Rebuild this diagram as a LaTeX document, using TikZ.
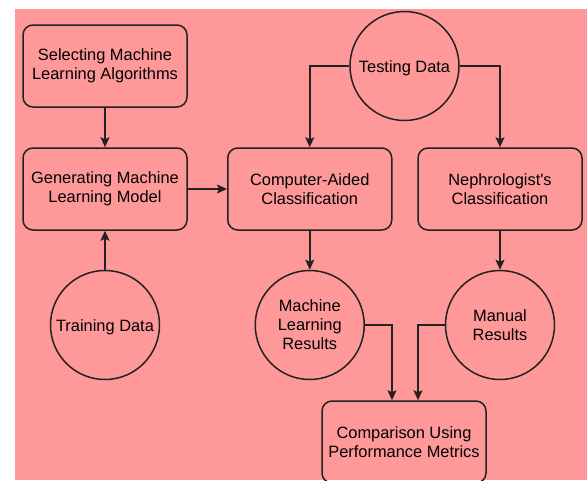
\documentclass[tikz,border=0pt]{standalone}
\usepackage{fontspec}
\setmainfont{Liberation Sans}[Ligatures=TeXOff]
\usetikzlibrary{arrows.meta,positioning}
\definecolor{bgpink}{HTML}{FF9999}
\definecolor{ink}{HTML}{222222}
\tikzset{
  box/.style={draw=ink, line width=1.5pt, rounded corners=10pt, minimum width=164pt, minimum height=82pt, align=center, inner sep=0pt, font=\fontsize{16.4}{19}\selectfont, execute at begin node={\rule{0pt}{16pt}}},
  disc/.style={draw=ink, line width=1.5pt, circle, minimum size=109pt, align=center, inner sep=0pt, font=\fontsize{16.4}{19}\selectfont, execute at begin node={\rule{0pt}{16pt}}},
  arr/.style={draw=ink, line width=1.5pt, -{Stealth[length=10pt,width=9pt,inset=2pt]}}
}
\begin{document}
\begin{tikzpicture}[x=1pt,y=-1pt]
\useasboundingbox (0,0) rectangle (587,480);
\fill[bgpink] (15,9) rectangle (587,480);
\begin{scope}
\clip (0,0) rectangle (587,480);
\node[box] (b1) at (105,66) {Selecting Machine\\Learning Algorithms};
\node[box] (b2) at (105,189) {Generating Machine\\Learning Model};
\node[box] (b3) at (309.75,189) {Computer-Aided\\Classification};
\node[box] (b4) at (500,189) {Nephrologist's\\Classification};
\node[disc] (td) at (404.5,66) {Testing Data};
\node[disc] (tr) at (105,325) {Training Data};
\node[disc] (ml) at (309.75,325) {Machine\\Learning\\Results};
\node[disc] (mr) at (500,325) {Manual\\Results};
\node[box] (cmp) at (404,442) {Comparison Using\\Performance Metrics};
\end{scope}
\draw[arr] (b1.south) -- (b2.north);
\draw[arr] (b2.east) -- (b3.west);
\draw[arr] (tr.north) -- (b2.south);
\draw[arr] (td.west) -| (b3.north);
\draw[arr] (td.east) -| (b4.north);
\draw[arr] (b3.south) -- (ml.north);
\draw[arr] (b4.south) -- (mr.north);
\draw[arr] (ml.east) -| ([xshift=-12pt]cmp.north);
\draw[arr] (mr.west) -| ([xshift=14pt]cmp.north);
\end{tikzpicture}
\end{document}
